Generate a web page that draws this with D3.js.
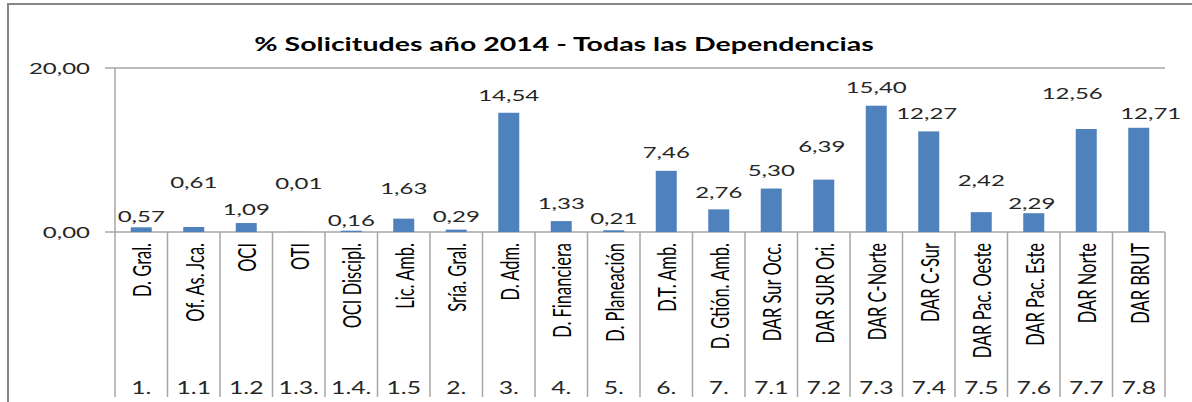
<!DOCTYPE html>
<html>
<head>
<meta charset="utf-8">
<script src="https://cdn.jsdelivr.net/npm/d3@7/dist/d3.min.js"></script>
<style>
  html, body { margin: 0; padding: 0; background: #fff; }
  svg { display: block; }
  text { font-family: Lato, "Open Sans", sans-serif; }
</style>
</head>
<body>
<div id="chart"></div>
<script>
// ---- data ----
const categories = ["D. Gral.", "Of. As. Jca.", "OCI", "OTI", "OCI Discipl.", "Lic. Amb.", "Sría. Gral.", "D. Adm.", "D. Financiera", "D. Planeación", "D.T. Amb.", "D. Gtión. Amb.", "DAR Sur Occ.", "DAR SUR Ori.", "DAR C-Norte", "DAR C-Sur", "DAR Pac. Oeste", "DAR Pac. Este", "DAR Norte", "DAR BRUT"];
const codes = ["1.", "1.1", "1.2", "1.3.", "1.4.", "1.5", "2.", "3.", "4.", "5.", "6.", "7.", "7.1", "7.2", "7.3", "7.4", "7.5", "7.6", "7.7", "7.8"];
const values = [0.57, 0.61, 1.09, 0.01, 0.16, 1.63, 0.29, 14.54, 1.33, 0.21, 7.46, 2.76, 5.30, 6.39, 15.40, 12.27, 2.42, 2.29, 12.56, 12.71];
const yTicks = [0, 20];
const title = "% Solicitudes año 2014 - Todas las Dependencias";

// ---- layout (label placement as in the original, manually nudged labels) ----
const labelLift = [12, 45, 14, 49, 11, 31, 14, 18, 18, 13, 19, 18, 19, 34, 19, 19, 32, 10, 36, 15];
const labelShift = [0, 0, 0, 0, 0, 0, 0, 0, 0, 0, 0, 0, 0, -2, 0, -2, 0, -2, -14, 12];

const W = 1192, H = 402;
const SX = 1.5; // horizontal glyph stretch of the original picture
const plot = { left: 115, right: 1165, top: 68, bottom: 232, axisBottom: 397 };

const locale = d3.formatLocale({ decimal: ",", thousands: ".", grouping: [3], currency: ["", ""] });
const fmt = locale.format(".2f");

const svg = d3.select("#chart").append("svg").attr("width", W).attr("height", H);

// outer frame
svg.append("rect").attr("x", 8).attr("y", 4).attr("width", W + 10).attr("height", H + 10)
  .attr("fill", "#fff").attr("stroke", "#868686").attr("stroke-width", 2);

const x = d3.scaleBand().domain(categories).range([plot.left, plot.right]).paddingInner(0).paddingOuter(0);
const y = d3.scaleLinear().domain([0, 20]).range([plot.bottom, plot.top]);
const barW = x.bandwidth() * 0.4;

// title
svg.append("text")
  .attr("transform", `translate(564,51) scale(1.5,1)`)
  .attr("text-anchor", "middle")
  .attr("font-size", 19).attr("font-weight", "bold").attr("fill", "#000")
  .text(title);

// gridlines / ticks
const grid = svg.append("g");
grid.selectAll("line").data(yTicks).join("line")
  .attr("x1", plot.left - 10).attr("x2", plot.right)
  .attr("y1", d => y(d)).attr("y2", d => y(d))
  .attr("stroke", "#A6A6A6").attr("stroke-width", 1.5);

// y tick labels
svg.append("g").selectAll("text").data(yTicks).join("text")
  .attr("transform", d => `translate(90,${y(d)}) scale(${SX},1)`)
  .attr("text-anchor", "end").attr("dominant-baseline", "central")
  .attr("font-size", 16).attr("fill", "#262626")
  .text(d => fmt(d));

// y axis line (extends through category area)
svg.append("line")
  .attr("x1", plot.left).attr("x2", plot.left)
  .attr("y1", plot.top).attr("y2", plot.axisBottom)
  .attr("stroke", "#A6A6A6").attr("stroke-width", 1.5);

// category separators
svg.append("g").selectAll("line").data(categories).join("line")
  .attr("x1", d => x(d) + x.bandwidth()).attr("x2", d => x(d) + x.bandwidth())
  .attr("y1", plot.bottom).attr("y2", plot.axisBottom)
  .attr("stroke", "#A6A6A6").attr("stroke-width", 1.5);

// bars
svg.append("g").selectAll("rect").data(values).join("rect")
  .attr("x", (d, i) => x(categories[i]) + x.bandwidth() / 2 - barW / 2)
  .attr("width", barW)
  .attr("y", d => y(d))
  .attr("height", d => y(0) - y(d))
  .attr("fill", "#4F81BD");

// value labels
svg.append("g").selectAll("text").data(values).join("text")
  .attr("transform", (d, i) => `translate(${x(categories[i]) + x.bandwidth() / 2 + labelShift[i]},${y(d) - labelLift[i]}) scale(${SX},1)`)
  .attr("text-anchor", "middle").attr("dominant-baseline", "central")
  .attr("font-size", 16).attr("fill", "#262626")
  .text(d => fmt(d));

// rotated category labels
svg.append("g").selectAll("text").data(categories).join("text")
  .attr("transform", d => `translate(${x(d) + x.bandwidth() / 2},243) scale(${SX},1) rotate(-90)`)
  .attr("text-anchor", "end").attr("dominant-baseline", "central")
  .attr("font-size", 16.5).attr("fill", "#000")
  .text(d => d);

// group code labels
svg.append("g").selectAll("text").data(codes).join("text")
  .attr("transform", (d, i) => `translate(${x(categories[i]) + x.bandwidth() / 2},387) scale(${SX},1)`)
  .attr("text-anchor", "middle").attr("dominant-baseline", "central")
  .attr("font-size", 16.5).attr("fill", "#262626")
  .text(d => d);
</script>
</body>
</html>
